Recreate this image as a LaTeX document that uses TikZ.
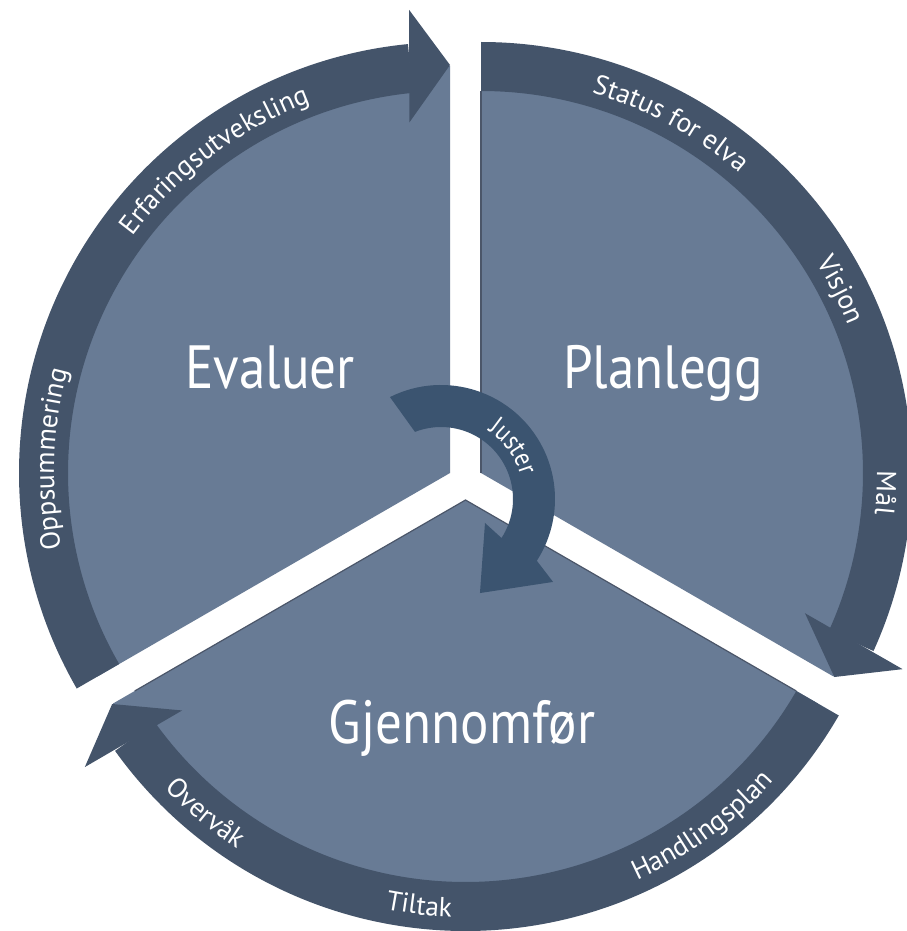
\documentclass[tikz,border=0pt]{standalone}
\usepackage{fontspec}
\usetikzlibrary{decorations.text,calc}
\newfontfamily\bigfont[FakeStretch=0.87]{PT Sans}
\newfontfamily\ringfont{PT Sans}
\definecolor{ringc}{HTML}{44546A}
\definecolor{secc}{HTML}{687B95}
\definecolor{justc}{HTML}{3B5470}
\definecolor{edgec}{HTML}{4B5669}

% apex, start angle (ring start), tip edge angle
\newcommand\mysector[3]{%
  \fill[secc,shift={(#1)}] (0,0) -- ({#3}:407pt) arc[start angle={#3}, end angle={#2}, radius=407pt] -- cycle;}
\newcommand\myringarrow[3]{%
  \begin{scope}[shift={(#1)}]
    \fill[ringc] ({#2}:431pt) arc[start angle={#2}, end angle={#3+5.6}, radius=431pt]
      -- ({#3+5.6}:382pt) arc[start angle={#3+5.6}, end angle={#2}, radius=382pt] -- cycle;
    \fill[ringc] ({#3+6.6}:353pt) -- ({#3}:408pt) -- ({#3+5.05}:465pt) -- cycle;
  \end{scope}}
% apex, centre angle, text, half span
\newcommand\mytoptext[4]{%
  \path[shift={(#1)}, decorate, decoration={text along path, text color=white, text align=center,
    text={|\ringfont\fontsize{27.5}{27.5}\selectfont|#3}}]
    ({#2+#4}:396pt) arc[start angle={#2+#4}, end angle={#2-#4}, radius=396pt];}
\newcommand\mybottext[4]{%
  \path[shift={(#1)}, decorate, decoration={text along path, text color=white, text align=center,
    text={|\ringfont\fontsize{27.5}{27.5}\selectfont|#3}}]
    ({#2-#4}:417pt) arc[start angle={#2-#4}, end angle={#2+#4}, radius=417pt];}

\begin{document}
\begin{tikzpicture}[x=1pt,y=1pt,
  biglabel/.style={text=white, font=\bigfont\fontsize{61}{61}\selectfont, inner sep=0pt, anchor=base}]
\useasboundingbox (0,0) rectangle (906,-931);
\fill[white] (0,0) rectangle (906,-931);

\coordinate (E0) at (450,-473);
\coordinate (P0) at (481,-473);
\coordinate (G0) at (465.5,-500);
\coordinate (J0) at (441,-499);
\coordinate (Gl) at ($(G0)+(210:382pt)$);

% sectors
\mysector{E0}{210}{90}
\mysector{P0}{90}{-30}
\mysector{G0}{330}{210}

% edge shadows
\draw[edgec, line width=1.2pt] (P0) -- ++(90:382pt);
\draw[edgec, line width=1.2pt] (Gl) -- (G0) -- ++(330:382pt);

% ring arrows
\myringarrow{E0}{210}{90}
\myringarrow{P0}{90}{-30}
\myringarrow{G0}{330}{210}

% centre labels
\node[biglabel] (eval) at (270,-388) {Evaluer};
\node[biglabel] (plan) at (663,-388) {Planlegg};
\node[biglabel] (gjen) at (462,-743) {Gjennomfør};

% ring labels
\mytoptext{E0}{127}{Erfaringsutveksling}{35}
\mytoptext{E0}{178}{Oppsummering}{30}
\mytoptext{P0}{61.5}{Status for elva}{30}
\mytoptext{P0}{27}{Visjon}{15}
\mytoptext{P0}{-2.8}{Mål}{10}
\mybottext{G0}{-54}{Handlingsplan}{30}
\mybottext{G0}{-96.5}{Tiltak}{15}
\mybottext{G0}{230.3}{Overvåk}{15}

% Juster arrow
\begin{scope}[shift={(J0)}]
  \fill[justc] (116.6:114pt) arc[start angle=116.6, end angle=-32.8, radius=114pt]
    -- (-36.5:139.4pt) -- (-67.5:101.8pt) -- (-28.6:50.1pt) -- (-32.8:72pt)
    arc[start angle=-32.8, end angle=111.2, radius=72pt] -- cycle;
  \path[decorate, decoration={text along path, text color=white, text align=center,
    text={|\bigfont\fontsize{27}{27}\selectfont|Juster}}]
    (86:83pt) arc[start angle=86, end angle=-14, radius=83pt];
\end{scope}
\end{tikzpicture}
\end{document}
